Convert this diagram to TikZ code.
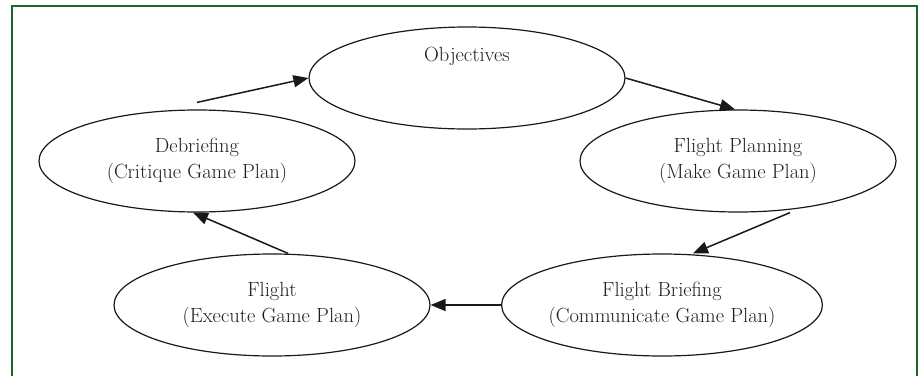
\documentclass[tikz,border=0pt]{standalone}
\usetikzlibrary{shapes.geometric,arrows.meta,calc}
\definecolor{framegreen}{RGB}{28,102,40}
\begin{document}
\begin{tikzpicture}[x=1pt,y=-1pt,
  oval/.style={draw=black!90, line width=1.2pt, ellipse, minimum width=316pt, minimum height=102pt, inner sep=0pt},
  txt/.style={align=center, text=black!88, font=\fontsize{20.5}{26}\selectfont},
  flow/.style={draw=black!90, line width=1.5pt, -{Triangle[length=15pt,width=12pt]}},
  frame/.style={draw=framegreen, line width=2.6pt}]
\useasboundingbox (0,0) rectangle (920,375);
\draw[frame] (12,376) -- (12,6) -- (917,6) -- (917,376);
\node[oval] (obj) at (467,78) {};
\node[txt] (objtxt) at (467,56) {Objectives};
\node[oval, txt] (deb) at (197,161) {Debriefing\\(Critique Game Plan)};
\node[oval, txt] (fp) at (738,161) {Flight Planning\\(Make Game Plan)};
\node[oval, txt] (fb) at (662,305) {Flight Briefing\\(Communicate Game Plan)};
\node[oval, txt] (fl) at (272,305) {Flight\\(Execute Game Plan)};
\draw[flow] ($(deb.north)+(0,-7)$) -- (obj.west);
\draw[flow] (obj.east) -- ($(fp.north)+(-3,0)$);
\draw[flow] ($(fp.south)+(52,0)$) -- ($(fb.north)+(31,0)$);
\draw[flow] (fb.west) -- (fl.east);
\draw[flow] ($(fl.north)+(16,0)$) -- ($(deb.south)+(-4,0)$);
\end{tikzpicture}
\end{document}
